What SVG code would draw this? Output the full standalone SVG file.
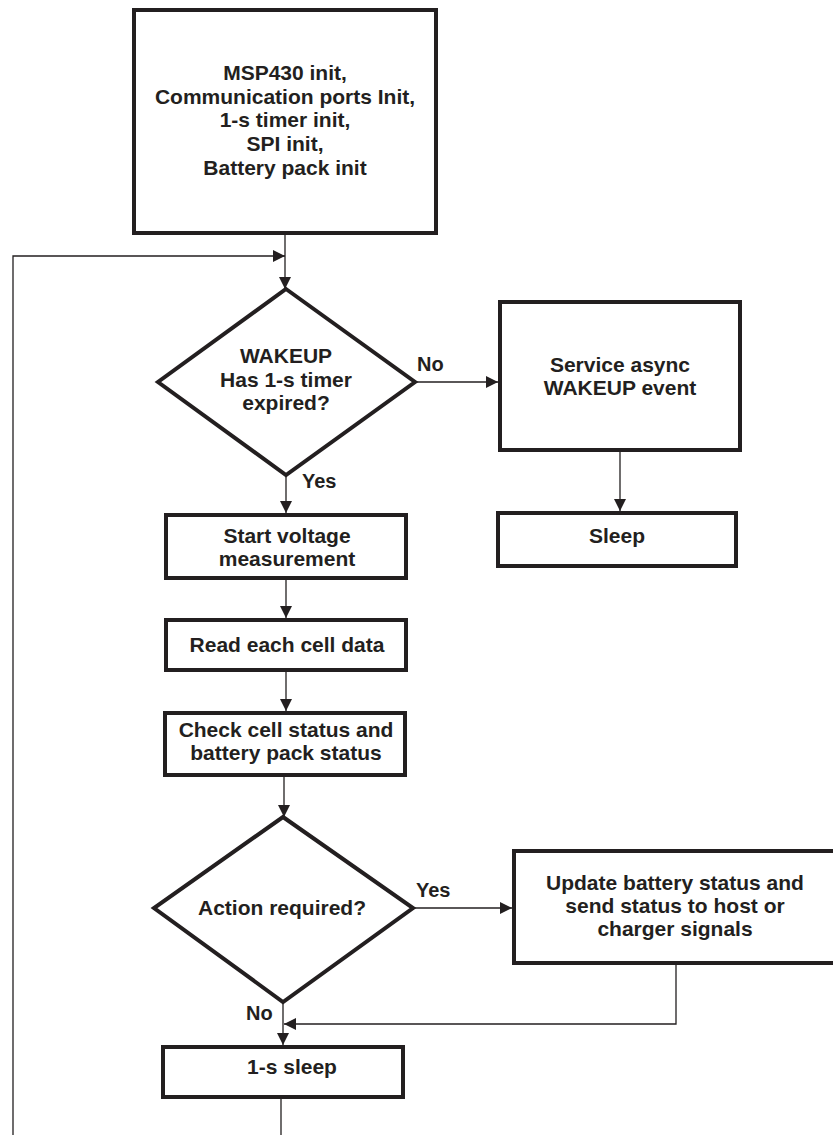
<svg xmlns="http://www.w3.org/2000/svg" width="833" height="1135" viewBox="0 0 833 1135">
<style>
.box{fill:#fff;stroke:#231f20;stroke-width:4}
.t{font-family:"Liberation Sans",Arial,sans-serif;font-weight:bold;font-size:21px;fill:#231f20;text-anchor:middle}
.lbl{font-family:"Liberation Sans",Arial,sans-serif;font-weight:bold;font-size:20px;fill:#231f20}
.c{fill:none;stroke:#231f20;stroke-width:1.3}
</style>
<defs>
<marker id="arr" markerUnits="userSpaceOnUse" markerWidth="12" markerHeight="12" refX="12" refY="6" orient="auto">
<path d="M0,0 L12,6 L0,12 z" fill="#231f20"/>
</marker>
</defs>
<rect width="833" height="1135" fill="#fff"/>
<g id="connectors">
<path class="c" d="M285,235 V289" marker-end="url(#arr)"/>
<path class="c" d="M13,1135 V256 H285" marker-end="url(#arr)"/>
<path class="c" d="M415,382 H498" marker-end="url(#arr)"/>
<path class="c" d="M286,475 V513" marker-end="url(#arr)"/>
<path class="c" d="M620,452 V511" marker-end="url(#arr)"/>
<path class="c" d="M286,580 V618" marker-end="url(#arr)"/>
<path class="c" d="M286,672 V711" marker-end="url(#arr)"/>
<path class="c" d="M284,777 V817" marker-end="url(#arr)"/>
<path class="c" d="M413,908 H512" marker-end="url(#arr)"/>
<path class="c" d="M676,965 V1024 H284" marker-end="url(#arr)"/>
<path class="c" d="M283,1002 V1045" marker-end="url(#arr)"/>
<path class="c" d="M281,1099 V1135"/>
</g>
<g id="init">
<rect class="box" x="134" y="10" width="302" height="223"/>
<text class="t" x="285" y="80">MSP430 init,</text>
<text class="t" x="285" y="104">Communication ports Init,</text>
<text class="t" x="285" y="127">1-s timer init,</text>
<text class="t" x="285" y="151">SPI init,</text>
<text class="t" x="285" y="175">Battery pack init</text>
</g>
<g id="wakeup">
<polygon points="286,289 415,382 286,475 158,382" fill="#fff" stroke="#231f20" stroke-width="4" stroke-linejoin="miter"/>
<text class="t" x="286" y="363">WAKEUP</text>
<text class="t" x="286" y="387">Has 1-s timer</text>
<text class="t" x="286" y="410">expired?</text>
</g>
<text class="lbl" x="417" y="371">No</text>
<text class="lbl" x="302" y="488">Yes</text>
<g id="service">
<rect class="box" x="500" y="302" width="240" height="148"/>
<text class="t" x="620" y="372">Service async</text>
<text class="t" x="620" y="395">WAKEUP event</text>
</g>
<g id="sleep">
<rect class="box" x="498" y="513" width="238" height="53"/>
<text class="t" x="617" y="543">Sleep</text>
</g>
<g id="start">
<rect class="box" x="166" y="515" width="240" height="63"/>
<text class="t" x="287" y="543">Start voltage</text>
<text class="t" x="287" y="566">measurement</text>
</g>
<g id="read">
<rect class="box" x="166" y="620" width="240" height="50"/>
<text class="t" x="287" y="652">Read each cell data</text>
</g>
<g id="check">
<rect class="box" x="165" y="713" width="240" height="62"/>
<text class="t" x="286" y="737">Check cell status and</text>
<text class="t" x="286" y="760">battery pack status</text>
</g>
<g id="action">
<polygon points="283,817 413,908 283,1002 154,908" fill="#fff" stroke="#231f20" stroke-width="4"/>
<text class="t" x="282" y="915">Action required?</text>
</g>
<text class="lbl" x="416" y="897">Yes</text>
<text class="lbl" x="246" y="1020">No</text>
<g id="update">
<rect class="box" x="514" y="851" width="330" height="112"/>
<text class="t" x="675" y="890">Update battery status and</text>
<text class="t" x="675" y="913">send status to host or</text>
<text class="t" x="675" y="936">charger signals</text>
</g>
<g id="onessleep">
<rect class="box" x="163" y="1047" width="240" height="50"/>
<text class="t" x="292" y="1074">1-s sleep</text>
</g>
</svg>
